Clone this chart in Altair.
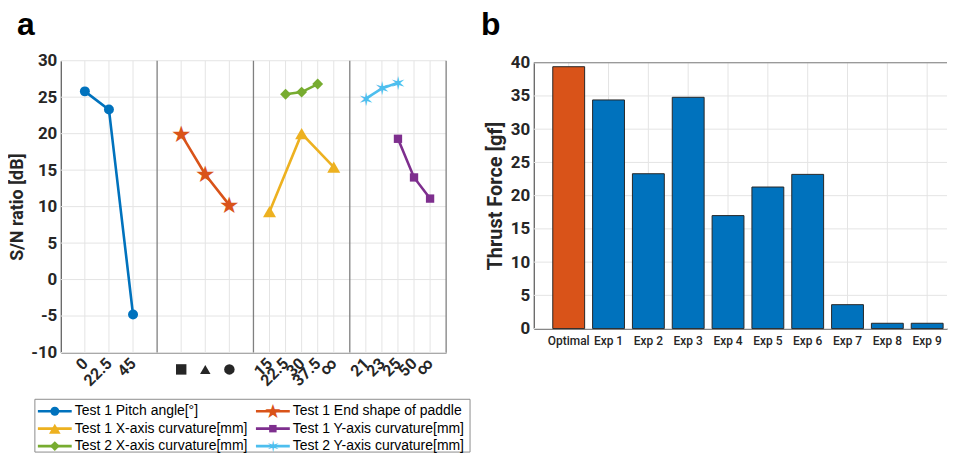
import altair as alt
import pandas as pd

# ---------------- panel a data ----------------
section_tick_labels = [
    ["0", "22.5", "45"],
    ["■", "▲", "●"],
    ["15", "22.5", "30", "37.5", "∞"],
    ["21", "23", "25", "50", "∞"],
]
symbol_shapes = ["square", "triangle-up", "circle"]

series_names = [
    "Test 1 Pitch angle[°]",
    "Test 1 End shape of paddle",
    "Test 1 X-axis curvature[mm]",
    "Test 1 Y-axis curvature[mm]",
    "Test 2 X-axis curvature[mm]",
    "Test 2 Y-axis curvature[mm]",
]
series_section = [0, 1, 2, 3, 2, 3]
series_levels = [[0, 1, 2], [0, 1, 2], [0, 2, 4], [2, 3, 4], [1, 2, 3], [0, 1, 2]]
series_values = [
    [25.8, 23.3, -4.8],
    [19.9, 14.4, 10.2],
    [9.3, 20.0, 15.4],
    [19.3, 14.0, 11.1],
    [25.4, 25.7, 26.8],
    [24.8, 26.2, 27.0],
]
series_colors = ["#0072BD", "#D95319", "#EDB120", "#7E2F8E", "#77AC30", "#4DBEEE"]
# marker: a symbol shape, or a star glyph drawn as text
series_shapes = ["circle", "★", "triangle-up", "square", "diamond", "✶"]
series_sizes = [100, 23, 170, 70, 120, 19]
a_y_ticks = [-10, -5, 0, 5, 10, 15, 20, 25, 30]

# ---------------- panel b data ----------------
bar_names = ["Optimal", "Exp 1", "Exp 2", "Exp 3", "Exp 4", "Exp 5",
             "Exp 6", "Exp 7", "Exp 8", "Exp 9"]
bar_values = [39.4, 34.4, 23.3, 34.8, 17.0, 21.3, 23.2, 3.6, 0.8, 0.8]
b_y_ticks = [0, 5, 10, 15, 20, 25, 30, 35, 40]

panel_titles = ["a", "b"]

FONT_N = "Roboto, Liberation Sans, sans-serif"
FONT = "Liberation Sans, Arial, sans-serif"
GLYPH_FONT = "DejaVu Sans, sans-serif"
TXT = "#262626"
GRID = "#e4e4e4"
DOM = "#555555"

# ---------------- layout (pixels, relative to the plot origin) ----------------
W_A, H_A = 387, 293
B_X0, B_X1, B_Y0, B_Y1 = 475, 890, 2, 269
UNIT = 12


def pos(sec, lev):
    n = len(section_tick_labels[sec])
    return sec * UNIT + (lev + 1) * UNIT // (n + 1)


tick_pos, tick_txt = [], []
for s, labs in enumerate(section_tick_labels):
    for i, t in enumerate(labs):
        tick_pos.append(pos(s, i))
        tick_txt.append("" if s == 1 else t)
label_expr = "".join(f"datum.value == {p} ? '{t}' : " for p, t in zip(tick_pos, tick_txt)) + "''"

rows = []
for name, sec, levs, vals in zip(series_names, series_section, series_levels, series_values):
    for lv, v in zip(levs, vals):
        rows.append({"series": name, "px": pos(sec, lv), "val": v})
df_a = pd.DataFrame(rows)
df_ticks = pd.DataFrame({"px": tick_pos})
df_sep = pd.DataFrame({"sep": [UNIT, 2 * UNIT, 3 * UNIT, 4 * UNIT]})
df_sym = pd.DataFrame({"px": [pos(1, i) for i in range(3)], "shp": symbol_shapes})
df_ay = pd.DataFrame({"v": a_y_ticks})
df_b = pd.DataFrame({"name": bar_names, "value": bar_values})
df_by = pd.DataFrame({"v": b_y_ticks})
df_leg = pd.DataFrame({"name": series_names, "i": list(range(6)), "glyph": series_shapes})
df_tit = pd.DataFrame({"t": panel_titles})

xa = alt.Scale(domain=[0, 4 * UNIT], range=[0, W_A], nice=False, zero=False)
ya = alt.Scale(domain=[-10, 30], range=[H_A, 0], nice=False, zero=False)
xb = alt.Scale(domain=bar_names, range=[B_X0, B_X1], paddingInner=0.2, paddingOuter=0.2875, align=0.83)
yb = alt.Scale(domain=[0, 40], range=[B_Y1, B_Y0], nice=False, zero=False)

x_axis_a = alt.Axis(values=tick_pos, labelExpr=label_expr, title="", ticks=False, grid=False,
                    labelAngle=315, labelAlign="right", labelBaseline="middle",
                    labelPadding=8, labelFontSize=16, labelOverlap=False, orient="bottom")
y_axis_a = alt.Axis(values=a_y_ticks, title="S/N ratio [dB]", ticks=False, grid=False,
                    labelExpr="datum.value < 0 ? '-' + abs(datum.value) : '' + datum.value",
                    labelPadding=4, titlePadding=4, titleFontSize=18, orient="left")
x_axis_b = alt.Axis(title="", labelAngle=0, ticks=False, grid=False, labelFontSize=12,
                    labelFontWeight=500, labelPadding=7, orient="bottom", offset=B_Y1 - H_A)
y_axis_b = alt.Axis(values=b_y_ticks, title="Thrust Force [gf]", ticks=False, grid=False,
                    labelPadding=4, titlePadding=5, titleFontSize=20, orient="left", offset=-B_X0)

L = []
# panel a grid
L.append(alt.Chart(df_ticks).mark_rule(color=GRID, strokeWidth=1).encode(
    x=alt.X("px:Q", scale=xa, axis=x_axis_a), y=alt.value(0), y2=alt.value(H_A)))
L.append(alt.Chart(df_ay).mark_rule(color=GRID, strokeWidth=1).encode(
    y=alt.Y("v:Q", scale=ya, axis=y_axis_a), x=alt.value(0), x2=alt.value(W_A)))
# section separators
L.append(alt.Chart(df_sep).mark_rule(color="#808080", strokeWidth=1.3).encode(
    x=alt.X("sep:Q", scale=xa, axis=None), y=alt.value(0), y2=alt.value(H_A)))
# series lines and markers
for name, col in zip(series_names, series_colors):
    L.append(alt.Chart(df_a).transform_filter(alt.datum.series == name).mark_line(
        color=col, strokeWidth=2.6).encode(
        x=alt.X("px:Q", scale=xa, axis=None), y=alt.Y("val:Q", scale=ya, axis=None)))
for name, shp, sz, col in zip(series_names, series_shapes, series_sizes, series_colors):
    base = alt.Chart(df_a).transform_filter(alt.datum.series == name)
    enc = dict(x=alt.X("px:Q", scale=xa, axis=None), y=alt.Y("val:Q", scale=ya, axis=None))
    if shp in ("★", "✶"):
        L.append(base.mark_text(text=shp, font=GLYPH_FONT, fontSize=sz, color=col,
                                align="center", baseline="middle", dy=1).encode(**enc))
    else:
        L.append(base.mark_point(filled=True, opacity=1, shape=shp, size=sz, color=col).encode(**enc))
# paddle end-shape symbols under the axis
for shp in symbol_shapes:
    L.append(alt.Chart(df_sym).transform_filter(alt.datum.shp == shp).mark_point(
        filled=True, opacity=1, shape=shp, size=110, color=TXT).encode(
        x=alt.X("px:Q", scale=xa, axis=None), y=alt.value(H_A + 17)))

# panel b grid, frame top and bars
L.append(alt.Chart(df_by).mark_rule(color=GRID, strokeWidth=1).encode(
    y=alt.Y("v:Q", scale=yb, axis=None), x=alt.value(B_X0), x2=alt.value(B_X1)))
L.append(alt.Chart(df_b).mark_rule(color=GRID, strokeWidth=1).encode(
    x=alt.X("name:N", scale=xb, axis=None), y=alt.value(B_Y0), y2=alt.value(B_Y1)))
L.append(alt.Chart(df_by).transform_filter(alt.datum.v == 40).mark_rule(color="#7f7f7f", strokeWidth=1.2).encode(
    y=alt.Y("v:Q", scale=yb, axis=None), x=alt.value(B_X0), x2=alt.value(B_X1)))
L.append(alt.Chart(df_b).mark_bar(stroke="#262626", strokeWidth=1, opacity=1).encode(
    x=alt.X("name:N", scale=xb, axis=x_axis_b, sort=bar_names),
    y=alt.Y("value:Q", scale=yb, axis=y_axis_b),
    color=alt.condition(alt.datum.name == "Optimal", alt.value("#D95319"), alt.value("#0072BD")),
))

# panel letters
for t, xx in zip(panel_titles, [-44, 422]):
    L.append(alt.Chart(df_tit).transform_filter(alt.datum.t == t).mark_text(
        align="left", baseline="alphabetic", font=FONT, fontSize=32, fontWeight="bold",
        color="black").encode(text="t:N", x=alt.value(xx), y=alt.value(-26)))

# legend below panel a
LEG_X0, LEG_TOP, LEG_BOT = -26, 340, 393
L.append(alt.Chart(df_leg).transform_filter(alt.datum.i == 0).mark_rect(
    fillOpacity=0, stroke="#8c8c8c", strokeWidth=1).encode(
    x=alt.value(LEG_X0), x2=alt.value(LEG_X0 + 437), y=alt.value(LEG_TOP), y2=alt.value(LEG_BOT)))
for i, (name, shp, sz, col) in enumerate(zip(series_names, series_shapes, series_sizes, series_colors)):
    bx = LEG_X0 + (i % 2) * 219
    by = LEG_TOP + 12 + (i // 2) * 17.5
    base = alt.Chart(df_leg).transform_filter(alt.datum.i == i)
    L.append(base.mark_rule(color=col, strokeWidth=2.6).encode(
        x=alt.value(bx + 3), x2=alt.value(bx + 37), y=alt.value(by)))
    if shp in ("★", "✶"):
        L.append(base.mark_text(font=GLYPH_FONT, fontSize=sz * 0.85, color=col, align="center",
                                baseline="middle", dy=1).encode(
            text="glyph:N", x=alt.value(bx + 20), y=alt.value(by)))
    else:
        L.append(base.mark_point(filled=True, opacity=1, shape=shp, size=sz * 0.8, color=col).encode(
            x=alt.value(bx + 20), y=alt.value(by)))
    L.append(base.mark_text(align="left", baseline="middle", font=FONT, fontSize=14, color="black").encode(
        text="name:N", x=alt.value(bx + 40), y=alt.value(by)))

chart = alt.layer(*L).resolve_scale(x="independent", y="independent").properties(
    width=B_X1, height=H_A, padding={"left": 0, "top": 0, "right": 0, "bottom": 0}
).configure_view(stroke=None).configure_axis(
    domainColor=DOM, domainWidth=1.2,
    labelFont=FONT_N, labelFontSize=17, labelFontWeight="bold", labelColor=TXT,
    titleFont=FONT_N, titleFontWeight="bold", titleColor=TXT,
)

chart.save("out.html", embed_options={"renderer": "svg", "actions": False})
